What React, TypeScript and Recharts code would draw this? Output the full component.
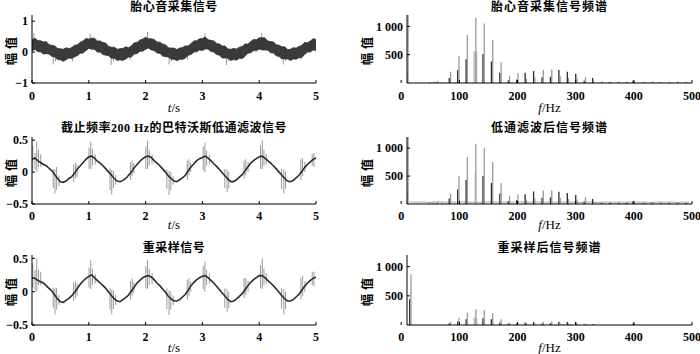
import React from "react";
import { ComposedChart, Area, Bar, Line, XAxis, YAxis } from "recharts";

// time axis of the three signal plots (s)
const dt = 0.05;
const timeTicks = [0, 1, 2, 3, 4, 5];
const freqTicks = [0, 100, 200, 300, 400, 500];

// raw fetal heart sound: upper / lower edge of the dense noise band
const sig1Hi = [
  0.4, 0.45, 0.37, 0.37, 0.33, 0.34, 0.24, 0.22, 0.2, 0.12,
  0.11, 0.09, 0.14, 0.11, 0.15, 0.22, 0.24, 0.32, 0.36, 0.44,
  0.42, 0.45, 0.45, 0.36, 0.36, 0.31, 0.29, 0.18, 0.16, 0.16,
  0.09, 0.11, 0.12, 0.17, 0.14, 0.2, 0.3, 0.31, 0.39, 0.42,
  0.48, 0.43, 0.43, 0.41, 0.33, 0.32, 0.26, 0.24, 0.14, 0.13,
  0.13, 0.08, 0.13, 0.15, 0.2, 0.2, 0.28, 0.36, 0.37, 0.43,
  0.44, 0.49, 0.4, 0.38, 0.36, 0.28, 0.26, 0.2, 0.2, 0.1,
  0.09, 0.12, 0.1, 0.16, 0.18, 0.26, 0.26, 0.34, 0.41, 0.4,
  0.46, 0.46, 0.46, 0.36, 0.34, 0.33, 0.24, 0.22, 0.17, 0.17,
  0.08, 0.09, 0.14, 0.13, 0.18, 0.22, 0.31, 0.3, 0.36, 0.43,
  0.41,
];
const sig1Lo = [
  0.04, 0.09, 0.01, 0.01, -0.06, -0.05, -0.06, -0.14, -0.16, -0.24,
  -0.25, -0.3, -0.25, -0.19, -0.21, -0.14, -0.12, -0.04, -0.03, 0.05,
  0.12, 0.09, 0.09, 0.0, 0.0, -0.08, -0.1, -0.12, -0.2, -0.2,
  -0.27, -0.25, -0.27, -0.22, -0.16, -0.16, -0.06, -0.05, 0.03, 0.03,
  0.09, 0.13, 0.07, 0.05, -0.03, -0.04, -0.13, -0.15, -0.16, -0.23,
  -0.23, -0.28, -0.23, -0.24, -0.19, -0.1, -0.08, 0.0, 0.01, 0.07,
  0.05, 0.1, 0.1, 0.02, 0.0, -0.08, -0.1, -0.19, -0.19, -0.2,
  -0.27, -0.24, -0.26, -0.2, -0.21, -0.13, -0.04, -0.02, 0.05, 0.04,
  0.1, 0.07, 0.07, 0.06, -0.02, -0.03, -0.12, -0.14, -0.22, -0.22,
  -0.22, -0.27, -0.22, -0.23, -0.18, -0.17, -0.08, 0.0, 0.0, 0.07,
  0.05,
];
// [t, low, high] of the light spikes
const sig1Spikes = [
  [0.04, 0.05, 0.62], [0.07, 0.1, 0.45], [0.38, -0.4, 0.0], [0.42, -0.3, 0.05],
  [0.72, -0.3, 0.15], [0.76, -0.2, 0.2], [1.03, 0.1, 0.6], [1.07, 0.15, 0.45],
  [1.4, -0.42, -0.05], [1.44, -0.3, 0.0], [1.73, -0.25, 0.2], [2.04, 0.1, 0.65],
  [2.08, 0.15, 0.45], [2.42, -0.4, -0.05], [2.46, -0.3, 0.0], [2.74, -0.25, 0.2],
  [3.05, 0.1, 0.6], [3.09, 0.15, 0.45], [3.43, -0.42, -0.05], [3.47, -0.3, 0.0],
  [3.74, -0.2, 0.22], [4.05, 0.1, 0.62], [4.09, 0.15, 0.45], [4.43, -0.4, -0.05],
  [4.47, -0.3, 0.0], [4.74, -0.25, 0.2], [4.96, 0.1, 0.45],
];

// 200 Hz Butterworth low-pass output
const sig2 = [
  0.2, 0.22, 0.18, 0.15, 0.12, 0.1, 0.06, 0.02, -0.04, -0.1,
  -0.15, -0.16, -0.14, -0.1, -0.07, -0.02, 0.05, 0.1, 0.15, 0.2,
  0.24, 0.25, 0.22, 0.17, 0.14, 0.1, 0.05, 0.0, -0.05, -0.1,
  -0.14, -0.15, -0.13, -0.1, -0.05, 0.0, 0.07, 0.12, 0.17, 0.21,
  0.24, 0.25, 0.23, 0.18, 0.14, 0.1, 0.05, 0.0, -0.06, -0.1,
  -0.14, -0.15, -0.12, -0.09, -0.05, 0.02, 0.08, 0.13, 0.18, 0.21,
  0.23, 0.25, 0.22, 0.18, 0.13, 0.09, 0.04, -0.01, -0.06, -0.11,
  -0.15, -0.15, -0.12, -0.08, -0.04, 0.02, 0.08, 0.14, 0.18, 0.21,
  0.24, 0.25, 0.22, 0.18, 0.14, 0.1, 0.05, 0.0, -0.05, -0.1,
  -0.14, -0.15, -0.13, -0.09, -0.05, 0.01, 0.07, 0.12, 0.16, 0.2,
  0.22,
];
const sig2Spikes = [
  [0.02, 0.02, 0.42], [0.06, 0.05, 0.3], [0.09, 0.0, 0.48], [0.12, 0.08, 0.35], [0.16, 0.08, 0.28],
  [0.38, -0.25, 0.05], [0.41, -0.33, 0.04], [0.44, -0.28, 0.08], [0.48, -0.22, -0.05],
  [0.74, -0.15, 0.12], [0.77, -0.1, 0.15], [0.8, -0.08, 0.12],
  [1.01, 0.05, 0.38], [1.04, 0.05, 0.48], [1.07, 0.1, 0.36], [1.12, 0.12, 0.28],
  [1.38, -0.28, 0.06], [1.41, -0.35, 0.03], [1.44, -0.25, 0.02], [1.48, -0.2, -0.05],
  [1.74, -0.12, 0.15], [1.77, -0.06, 0.18], [1.8, -0.02, 0.14],
  [2.01, 0.05, 0.4], [2.04, 0.05, 0.49], [2.07, 0.1, 0.35], [2.12, 0.12, 0.28],
  [2.38, -0.26, 0.04], [2.42, -0.36, 0.02], [2.45, -0.28, 0.0], [2.49, -0.2, -0.06],
  [2.74, -0.12, 0.18], [2.77, -0.05, 0.2], [2.8, 0.0, 0.15],
  [3.02, 0.03, 0.4], [3.05, 0.0, 0.46], [3.08, 0.1, 0.34], [3.13, 0.12, 0.27],
  [3.4, -0.25, 0.05], [3.44, -0.31, 0.04], [3.47, -0.26, 0.0],
  [3.74, -0.1, 0.18], [3.77, -0.05, 0.2], [3.81, 0.0, 0.16],
  [4.03, 0.05, 0.42], [4.06, 0.05, 0.5], [4.09, 0.1, 0.35], [4.13, 0.12, 0.28],
  [4.4, -0.27, 0.05], [4.44, -0.33, 0.04], [4.47, -0.26, 0.0],
  [4.74, -0.12, 0.2], [4.77, -0.06, 0.22], [4.81, 0.0, 0.16],
  [4.94, 0.1, 0.28], [4.97, 0.08, 0.3],
];

// resampled signal
const sig3 = [
  0.21, 0.2, 0.17, 0.15, 0.13, 0.09, 0.05, 0.01, -0.05, -0.11,
  -0.15, -0.16, -0.13, -0.1, -0.06, -0.01, 0.05, 0.11, 0.16, 0.2,
  0.23, 0.25, 0.21, 0.17, 0.13, 0.09, 0.05, -0.01, -0.06, -0.11,
  -0.14, -0.15, -0.12, -0.09, -0.05, 0.01, 0.07, 0.13, 0.17, 0.21,
  0.23, 0.24, 0.22, 0.18, 0.13, 0.09, 0.04, -0.01, -0.07, -0.11,
  -0.14, -0.14, -0.12, -0.08, -0.04, 0.02, 0.09, 0.14, 0.18, 0.21,
  0.23, 0.24, 0.21, 0.17, 0.13, 0.08, 0.03, -0.02, -0.07, -0.12,
  -0.15, -0.14, -0.11, -0.07, -0.03, 0.03, 0.09, 0.14, 0.18, 0.21,
  0.24, 0.24, 0.21, 0.17, 0.13, 0.09, 0.04, -0.01, -0.06, -0.11,
  -0.14, -0.14, -0.12, -0.08, -0.04, 0.02, 0.08, 0.13, 0.17, 0.2,
  0.22,
];
const sig3Spikes = [
  [0.02, 0.05, 0.42], [0.06, 0.02, 0.32], [0.09, 0.0, 0.5], [0.12, 0.1, 0.33], [0.16, 0.1, 0.3],
  [0.38, -0.24, 0.06], [0.41, -0.34, 0.05], [0.44, -0.27, 0.06], [0.48, -0.2, -0.05],
  [0.74, -0.14, 0.14], [0.77, -0.1, 0.16], [0.8, -0.06, 0.12],
  [1.01, 0.06, 0.36], [1.04, 0.04, 0.47], [1.07, 0.1, 0.34], [1.12, 0.12, 0.27],
  [1.38, -0.27, 0.05], [1.41, -0.34, 0.03], [1.44, -0.26, 0.02], [1.48, -0.2, -0.05],
  [1.74, -0.12, 0.16], [1.77, -0.06, 0.2], [1.8, -0.02, 0.14],
  [2.01, 0.05, 0.38], [2.04, 0.04, 0.48], [2.07, 0.1, 0.34], [2.12, 0.12, 0.28],
  [2.38, -0.26, 0.05], [2.42, -0.35, 0.02], [2.45, -0.27, 0.0], [2.49, -0.2, -0.06],
  [2.74, -0.12, 0.18], [2.77, -0.06, 0.2], [2.8, 0.0, 0.15],
  [3.02, 0.04, 0.38], [3.05, 0.0, 0.45], [3.08, 0.1, 0.33], [3.13, 0.12, 0.27],
  [3.4, -0.24, 0.05], [3.44, -0.3, 0.04], [3.47, -0.25, 0.0],
  [3.74, -0.1, 0.2], [3.77, -0.05, 0.2], [3.81, 0.0, 0.16],
  [4.03, 0.05, 0.4], [4.06, 0.04, 0.5], [4.09, 0.1, 0.35], [4.13, 0.12, 0.28],
  [4.4, -0.26, 0.05], [4.44, -0.34, 0.04], [4.47, -0.26, 0.0],
  [4.74, -0.12, 0.2], [4.77, -0.06, 0.24], [4.81, 0.0, 0.16],
  [4.94, 0.1, 0.3], [4.97, 0.08, 0.3],
];

// spectra (Hz): a light and a dark line at each harmonic
const specFreq = [
  11, 16, 48, 55, 62, 69, 84, 98.5, 113, 127.5, 142, 156.5, 171, 185.5, 200, 214.5, 229,
  243.5, 258, 272.5, 287, 301.5, 316, 330.5, 345, 359.5, 374, 388.5, 400, 417.5, 432,
  446.5, 461, 475.5, 490,
];
const spec1Gray = [
  1400, 0, 20, 25, 40, 15, 200, 470, 850, 1150, 1050, 760, 370, 120, 170, 80, 100,
  230, 240, 120, 90, 80, 100, 30, 25, 20, 25, 20, 30, 20, 25, 15, 20, 25, 20,
];
const spec1Dark = [
  210, 0, 0, 0, 10, 0, 90, 230, 420, 0, 510, 380, 180, 50, 60, 180, 210,
  100, 110, 230, 200, 165, 40, 90, 10, 15, 10, 15, 40, 10, 10, 10, 5, 10, 10,
];
const spec2Gray = [
  1400, 0, 30, 30, 35, 30, 190, 500, 840, 1080, 1000, 755, 375, 140, 175, 80, 100,
  240, 250, 110, 90, 80, 120, 40, 35, 30, 35, 30, 40, 30, 35, 30, 30, 35, 30,
];
const spec2Dark = [
  205, 0, 0, 0, 10, 0, 100, 260, 430, 0, 500, 375, 190, 50, 70, 175, 225,
  110, 120, 220, 195, 160, 40, 90, 15, 20, 15, 20, 45, 15, 15, 15, 10, 15, 15,
];
const spec3Gray = [
  0, 870, 0, 0, 0, 0, 57, 126, 212, 270, 258, 200, 98, 40, 45, 30, 30,
  55, 60, 25, 25, 20, 20, 15, 0, 0, 0, 0, 40, 0, 0, 0, 0, 0, 0,
];
const spec3Dark = [
  0, 440, 0, 0, 0, 0, 25, 60, 100, 0, 115, 100, 45, 20, 25, 45, 50,
  25, 30, 55, 50, 45, 10, 10, 0, 0, 0, 0, 20, 0, 0, 0, 0, 0, 0,
];
// wide pale component at the main peak
const wideFreq = [127.5];
const spec1Wide = [560];
const spec2Wide = [545];
const spec3Wide = [120];
// noise floor after filtering, every 10 Hz from 15 Hz
const spec2Floor = [
  35, 30, 38, 28, 33, 40, 30, 36, 32, 38, 30, 34, 28, 35, 40, 32, 36, 30, 34, 38,
  30, 33, 36, 29, 35, 31, 37, 30, 34, 28, 33, 36, 30, 32, 35, 29, 33, 31, 36, 30,
  34, 28, 32, 35, 30, 33, 29, 34, 31,
];

const NUM_FONT = "'Liberation Serif', 'Times New Roman', serif";
const CJK_FONT = "'Liberation Serif', 'Noto Sans CJK SC', serif";
const GRAY = "#9a9a9a";
const DARK = "#2b2b2b";

const fmtNum = (v: number) => (v === 1000 ? "1 000" : String(v).replace("-", "\u2212"));
const tickStyle = { fill: "#000", fontSize: 12, fontFamily: NUM_FONT, fontWeight: 700 };

const PAD_L = 40;
const PAD_T = 15;
const PAD_R = 10;
const PAD_B = 40;

type Box = { x: number; y: number; w: number; h: number };

type LayerProps = {
  box: Box;
  data: any[];
  xKey: string;
  xDomain: [number, number];
  yDomain: [number, number];
  xTicks: number[];
  yTicks: number[];
  xTickMargin?: number;
  axes: boolean;
  children: React.ReactNode;
};

function Layer({ box, data, xKey, xDomain, yDomain, xTicks, yTicks, xTickMargin = 10, axes, children }: LayerProps) {
  const width = box.w + PAD_L + PAD_R;
  const height = box.h + PAD_T + PAD_B;
  const inner = (v: number, d: [number, number]) => v >= d[0] && v <= d[1];
  return (
    <div style={{ position: "absolute", left: box.x - PAD_L, top: box.y - PAD_T, width, height }}>
      <ComposedChart
        width={width}
        height={height}
        data={data}
        barGap={0}
        style={{ overflow: "visible" }}
        margin={
          axes
            ? { top: PAD_T, right: PAD_R, bottom: 0, left: 0 }
            : { top: PAD_T, right: PAD_R, bottom: PAD_B, left: PAD_L }
        }
      >
        <XAxis
          xAxisId="x"
          dataKey={xKey}
          type="number"
          domain={xDomain}
          ticks={xTicks}
          interval={0}
          allowDataOverflow
          hide={!axes}
          height={PAD_B}
          tickSize={-3}
          tickMargin={xTickMargin}
          stroke="#000"
          tick={tickStyle}
          tickFormatter={fmtNum}
        />
        <YAxis
          yAxisId="y"
          type="number"
          domain={yDomain}
          ticks={yTicks}
          interval={0}
          allowDataOverflow
          hide={!axes}
          width={PAD_L}
          tickSize={-3}
          tickMargin={7}
          stroke="#000"
          tick={tickStyle}
          tickFormatter={fmtNum}
        />
        {axes && (
          <XAxis
            xAxisId="xt"
            orientation="top"
            type="number"
            domain={xDomain}
            ticks={xTicks.filter((v) => inner(v, xDomain))}
            interval={0}
            allowDataOverflow
            height={0}
            tickSize={-3}
            stroke="#000"
            tickFormatter={() => ""}
          />
        )}
        {axes && (
          <YAxis
            yAxisId="yr"
            orientation="right"
            type="number"
            domain={yDomain}
            ticks={yTicks}
            interval={0}
            allowDataOverflow
            width={0}
            tickSize={-3}
            stroke="#000"
            tickFormatter={() => ""}
          />
        )}
        {children}
      </ComposedChart>
    </div>
  );
}

function Txt({ x, y, children, size = 12, weight = 700, font = CJK_FONT, rotate = 0, spacing = 0 }: any) {
  return (
    <div
      style={{
        position: "absolute",
        left: x,
        top: y,
        transform: `translate(-50%, -50%) rotate(${rotate}deg)`,
        whiteSpace: "nowrap",
        fontFamily: font,
        fontSize: size,
        fontWeight: weight,
        letterSpacing: spacing,
        color: "#000",
        lineHeight: 1,
      }}
    >
      {children}
    </div>
  );
}

const toTime = (vals: number[]) => vals.map((v, i) => ({ t: +(i * dt).toFixed(2), v }));
const toSpikes = (rows: number[][]) => rows.map(([t, lo, hi]) => ({ t, v: [lo, hi] }));
const toSpec = (g: number[], d: number[]) => specFreq.map((f, i) => ({ f, g: g[i], d: d[i] }));
const toWide = (w: number[]) => wideFreq.map((f, i) => ({ f, v: w[i] }));

const band1 = sig1Hi.map((hi, i) => ({ t: +(i * dt).toFixed(2), v: [sig1Lo[i], hi] }));
const floor2 = spec2Floor.map((v, i) => ({ f: 15 + i * 10, v }));

const LEFT_X = 32;
const LEFT_W = 284;
const RIGHT_X = 407;
const RIGHT_W = 285;
const rows = [
  { y: 15, h: 68 },
  { y: 137, h: 67 },
  { y: 255, h: 70 },
];
const titleY = [7, 128, 248];
const xLabelY = [107, 224, 347];

function TimePanel({ row, yDomain, yTicks, spikes, children }: any) {
  const box = { x: LEFT_X, y: rows[row].y, w: LEFT_W, h: rows[row].h };
  const common = { box, xKey: "t", xDomain: [0, 5] as [number, number], yDomain, xTicks: timeTicks, yTicks };
  return (
    <>
      <Layer {...common} data={toSpikes(spikes)} axes={false}>
        <Bar xAxisId="x" yAxisId="y" dataKey="v" fill={GRAY} barSize={1} isAnimationActive={false} />
      </Layer>
      <Layer {...common} data={children.data} axes xTickMargin={row === 0 ? 11 : 10}>
        {children.series}
      </Layer>
    </>
  );
}

function SpecPanel({ row, gray, dark, wide, floor }: any) {
  const box = { x: RIGHT_X, y: rows[row].y, w: RIGHT_W, h: rows[row].h };
  const common = {
    box,
    xKey: "f",
    xDomain: [10, 500] as [number, number],
    yDomain: [0, 1200] as [number, number],
    xTicks: freqTicks,
    yTicks: [500, 1000],
  };
  return (
    <>
      <Layer {...common} data={toWide(wide)} axes={false}>
        <Bar xAxisId="x" yAxisId="y" dataKey="v" fill="#c4c4c4" barSize={4} isAnimationActive={false} />
        {floor && (
          <Line
            xAxisId="x"
            yAxisId="y"
            data={floor}
            dataKey="v"
            stroke="#a8a8a8"
            strokeWidth={1}
            dot={false}
            isAnimationActive={false}
          />
        )}
      </Layer>
      <Layer {...common} data={toSpec(gray, dark)} axes xTickMargin={row === 0 ? 11 : 10}>
        <Bar xAxisId="x" yAxisId="y" dataKey="d" fill={DARK} barSize={1.6} isAnimationActive={false} />
        <Bar xAxisId="x" yAxisId="y" dataKey="g" fill={GRAY} barSize={1.8} isAnimationActive={false} />
      </Layer>
    </>
  );
}

export default function App() {
  const leftTitles = ["胎心音采集信号", "截止频率200 Hz的巴特沃斯低通滤波信号", "重采样信号"];
  const rightTitles = ["胎心音采集信号频谱", "低通滤波后信号频谱", "重采样后信号频谱"];
  return (
    <div style={{ position: "absolute", left: 0, top: 0, width: 700, height: 354, background: "#fff", overflow: "hidden" }}>
      <TimePanel row={0} yDomain={[-1, 1.2]} yTicks={[-1, 0, 1]} spikes={sig1Spikes}>
        {{
          data: band1,
          series: (
            <Area
              xAxisId="x"
              yAxisId="y"
              dataKey="v"
              type="linear"
              stroke="#333"
              strokeWidth={0.8}
              fill="#3a3a3a"
              fillOpacity={1}
              isAnimationActive={false}
            />
          ),
        }}
      </TimePanel>
      <TimePanel row={1} yDomain={[-0.5, 0.55]} yTicks={[-0.5, 0, 0.5]} spikes={sig2Spikes}>
        {{
          data: toTime(sig2),
          series: (
            <Line
              xAxisId="x"
              yAxisId="y"
              dataKey="v"
              type="linear"
              stroke={DARK}
              strokeWidth={1.6}
              dot={false}
              isAnimationActive={false}
            />
          ),
        }}
      </TimePanel>
      <TimePanel row={2} yDomain={[-0.5, 0.55]} yTicks={[-0.5, 0, 0.5]} spikes={sig3Spikes}>
        {{
          data: toTime(sig3),
          series: (
            <Line
              xAxisId="x"
              yAxisId="y"
              dataKey="v"
              type="linear"
              stroke={DARK}
              strokeWidth={1.6}
              dot={false}
              isAnimationActive={false}
            />
          ),
        }}
      </TimePanel>

      <SpecPanel row={0} gray={spec1Gray} dark={spec1Dark} wide={spec1Wide} />
      <SpecPanel row={1} gray={spec2Gray} dark={spec2Dark} wide={spec2Wide} floor={floor2} />
      <SpecPanel row={2} gray={spec3Gray} dark={spec3Dark} wide={spec3Wide} />

      {rows.map((r, i) => (
        <React.Fragment key={i}>
          <Txt x={LEFT_X + LEFT_W / 2} y={titleY[i]} spacing={0.5}>{leftTitles[i]}</Txt>
          <Txt x={RIGHT_X + RIGHT_W / 2} y={titleY[i]} spacing={1}>{rightTitles[i]}</Txt>
          <Txt x={12} y={r.y + r.h / 2} rotate={-90} spacing={4}>幅值</Txt>
          <Txt x={368} y={r.y + r.h / 2} rotate={-90} spacing={4}>幅值</Txt>
          <Txt x={LEFT_X + LEFT_W / 2} y={xLabelY[i]} font={NUM_FONT} size={13} weight={400}>
            <i>t</i>/s
          </Txt>
          <Txt x={RIGHT_X + RIGHT_W / 2} y={xLabelY[i]} font={NUM_FONT} size={13} weight={400}>
            <i>f</i>/Hz
          </Txt>
        </React.Fragment>
      ))}
    </div>
  );
}
